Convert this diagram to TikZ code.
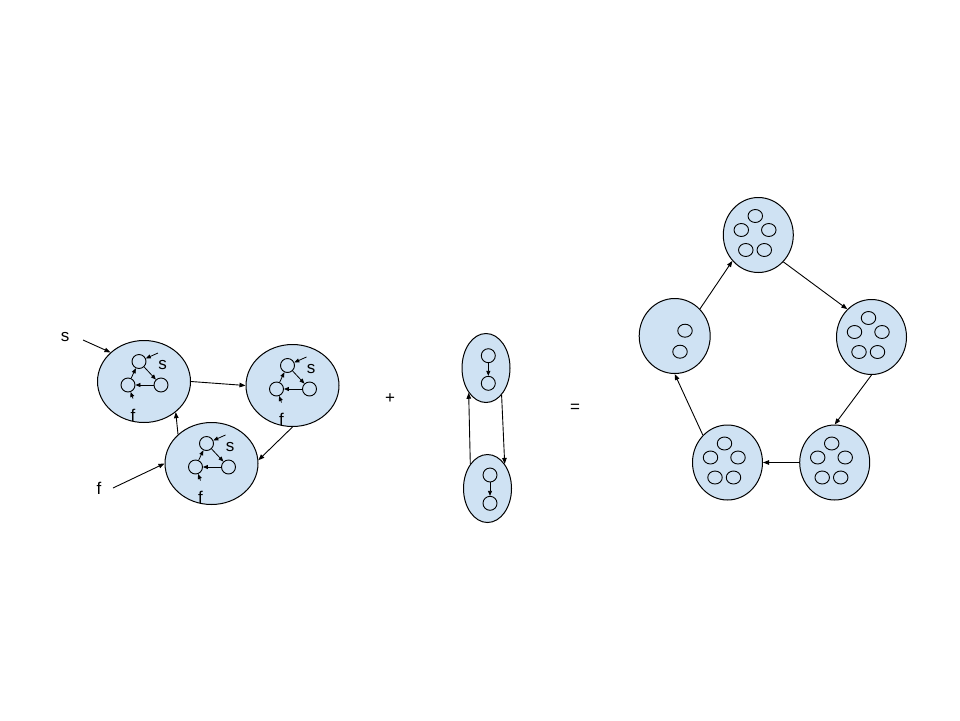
\documentclass[tikz,border=0pt]{standalone}
\usepackage{fontspec}
\setmainfont{Liberation Sans}
\usetikzlibrary{positioning,arrows.meta,shapes.geometric}
\definecolor{cellblue}{RGB}{207,226,243}
\tikzset{%
  cluster/.style={ellipse,draw,fill=cellblue,line width=1pt,inner sep=0pt},
  ring/.style={cluster,minimum width=70pt,minimum height=75pt},
  dot/.style={circle,draw,line width=0.9pt,minimum size=14pt,inner sep=0pt},
  pip/.style={ellipse,draw,line width=0.9pt,minimum width=14.5pt,minimum height=13pt,inner sep=0pt},
  link/.style={-{Triangle[length=6pt,width=4.5pt]},line width=0.9pt},
  tiny/.style={-{Triangle[length=5pt,width=4pt]},line width=0.8pt},
  lbl/.style={font=\fontsize{17}{20}\selectfont,inner sep=1pt}
}

\begin{document}
\begin{tikzpicture}[x=1pt,y=-1pt]
    \useasboundingbox (0,0) rectangle (960,720);

        % Left part: three clusters, each with a small cycle inside
        \foreach \n/\cx/\cy in {A/144/381.5, B/292.5/385.5, E/211.5/463.5}
            {
            \node[cluster,minimum width=93pt,minimum height=82pt] (\n) at (\cx,\cy) {};
            \node[dot] (\n-t) at ([shift={(-5,-20)}]\n.center) {};
            \node[dot] (\n-l) at ([shift={(-16,3.5)}]\n.center) {};
            \node[dot] (\n-r) at ([shift={(17,3.5)}]\n.center) {};
            \draw[tiny] (\n-t) -- (\n-r);
            \draw[tiny] (\n-r) -- (\n-l);
            \draw[tiny] (\n-l) -- (\n-t);
            \coordinate (\n-in) at ([shift={(14,-28.5)}]\n.center);
            \coordinate (\n-up) at ([shift={(-11,17)}]\n.center);
            \draw[tiny] (\n-in) -- (\n-t);
            \draw[tiny] (\n-up) -- (\n-l);
            \node[lbl] (\n-s) at ([shift={(18.5,-16)}]\n.center) {s};
            \node[lbl] (\n-f) at ([shift={(-11,33.5)}]\n.center) {f};
            }

        \node[lbl] (s) at (65,337) {s};
        \node[lbl] (f) at (99,488) {f};
        \coordinate (s-end) at (83,340);
        \coordinate (f-end) at (113,488);
        \draw[link] (s-end) -- (A.139);
        \draw[link] (f-end) -- (E.west);
        \draw[link] (A.east) -- (B.west);
        \draw[link] (B.south) -- (E.4);
        \draw[link] (E.139) -- (A.316);

        \node[lbl] (plus) at (390,399) {+};

        % Middle part: two clusters of two
        \node[cluster,minimum width=48pt,minimum height=69pt] (C) at (486,368) {};
        \node[cluster,minimum width=48pt,minimum height=68pt] (D) at (487.5,488.5) {};
        \node[dot] (C-1) at (488.3,355.7) {};
        \node[dot] (C-2) at (488.3,383.3) {};
        \node[dot] (D-1) at (490,475) {};
        \node[dot] (D-2) at (490,503.3) {};
        \draw[tiny] (C-1) -- (C-2);
        \draw[tiny] (D-1) -- (D-2);
        \draw[link] (D.125) -- (C.235);
        \draw[link] (C.300) -- (D.55);

        \node[lbl] (eq) at (575,408) {=};

        % Right part: ring of five clusters
        \foreach \n/\cx/\cy in {F/758.3/235, H/871.5/337, I/834.7/462.5, J/727.5/462.5}
            {
            \node[ring] (\n) at (\cx,\cy) {};
            \foreach \k/\dx/\dy in {1/-3/-19, 2/-17/-5, 3/10.5/-5, 4/-12.5/15, 5/6/15}
                \node[pip] (\n-\k) at ([shift={(\dx,\dy)}]\n.center) {};
            }
        \node[ring,minimum width=71pt] (G) at (674.7,336) {};
        \node[pip] (G-3) at ([shift={(10.3,-5.3)}]G.center) {};
        \node[pip] (G-5) at ([shift={(5.3,15.7)}]G.center) {};

        \draw[link] (G.47) -- (F.225);
        \draw[link] (F.313) -- (H.131);
        \draw[link] (H.south) -- (I.north);
        \draw[link] (I.west) -- (J.east);
        \draw[link] (J.132) -- (G.south);

\end{tikzpicture}
\end{document}
